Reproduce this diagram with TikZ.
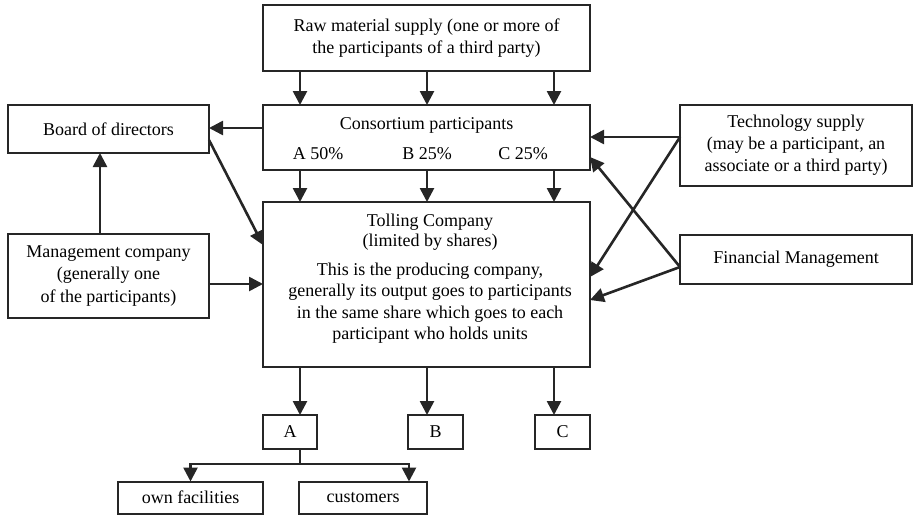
\documentclass[tikz,border=0pt]{standalone}
\usepackage{fontspec}
\setmainfont{Liberation Serif}
\usetikzlibrary{arrows.meta}
\begin{document}
\begin{tikzpicture}[x=0.5pt,y=-0.5pt,
 box/.style={draw=black!85,line width=1pt,inner sep=0pt,outer sep=0pt,align=center,font=\fontsize{9}{11}\selectfont},
 lbl/.style={inner sep=0pt,align=center,font=\fontsize{9}{11}\selectfont},
 arr/.style={draw=black!85,line width=1.3pt,-{Triangle[length=7pt,width=7pt]}},
 ln/.style={draw=black!85,line width=1.3pt}]
\useasboundingbox (0,0) rectangle (913,514);
% boxes
\node[box,minimum width=163.5pt,minimum height=33pt] (raw) at (426.5,38) {Raw material supply (one or more of\\the participants of a third party)};
\node[box,minimum width=163.5pt,minimum height=32.5pt] (cons) at (426.5,137.5) {};
\node[lbl] (consT) at (426.5,125) {Consortium participants};
\node[lbl] (pA) at (318,154) {A 50\%};
\node[lbl] (pB) at (427,154) {B 25\%};
\node[lbl] (pC) at (523,154) {C 25\%};
\node[box,minimum width=163.5pt,minimum height=82.5pt] (toll) at (426.5,284.5) {};
\node[lbl,font=\fontsize{9}{10}\selectfont] (tollT) at (430,232) {Tolling Company\\(limited by shares)};
\node[lbl,font=\fontsize{9}{10.7}\selectfont] (tollD) at (430,303) {This is the producing company,\\generally its output goes to participants\\in the same share which goes to each\\participant who holds units};
\node[box,minimum width=100.5pt,minimum height=24pt] (board) at (108.5,129) {Board of directors};
\node[box,minimum width=100.5pt,minimum height=42pt,font=\fontsize{9}{11.3}\selectfont] (mgmt) at (108.5,276) {Management company\\(generally one\\of the participants)};
\node[box,minimum width=116pt,minimum height=40.5pt] (tech) at (796,145.5) {Technology supply\\(may be a participant, an\\associate or a third party)};
\node[box,minimum width=116pt,minimum height=24.5pt] (fin) at (796,259.5) {Financial Management};
\node[box,minimum width=27pt,minimum height=17pt] (A) at (290,432) {A};
\node[box,minimum width=27.5pt,minimum height=17pt] (B) at (435.5,432) {B};
\node[box,minimum width=27.5pt,minimum height=17pt] (C) at (562.5,432) {C};
\node[box,minimum width=72.5pt,minimum height=16pt] (own) at (190.5,497.5) {own facilities};
\node[box,minimum width=64pt,minimum height=16pt] (cust) at (363,497.5) {customers};
% helper coordinates
\coordinate (xa) at (300,0);
\coordinate (xb) at (427,0);
\coordinate (xc) at (554,0);
\coordinate (xm) at (100,0);
\coordinate (xcu) at (409,0);
\coordinate (split) at (300,464);
\coordinate (y128) at (0,128);
\coordinate (y140) at (0,140);
\coordinate (y245) at (0,245);
\coordinate (y284) at (0,284);
\coordinate (y137) at (0,137);
\coordinate (y157) at (0,157);
\coordinate (y267) at (0,267);
\coordinate (y277) at (0,277);
\coordinate (y300) at (0,300);
% connectors
\foreach \xx in {xa,xb,xc}{
 \draw[arr] (raw.south -| \xx) -- (cons.north -| \xx);
 \draw[arr] (cons.south -| \xx) -- (toll.north -| \xx);
}
\draw[arr] (toll.south -| xa) -- (A.north -| xa);
\draw[arr] (toll.south -| xb) -- (B.north -| xb);
\draw[arr] (toll.south -| xc) -- (C.north -| xc);
\draw[ln] (A.south -| split) -- (split);
\draw[arr] (split) -| (own.north);
\draw[arr] (split) -| (cust.north -| xcu);
\draw[arr] (cons.west |- y128) -- (board.east |- y128);
\draw[arr] (board.east |- y140) -- (toll.west |- y245);
\draw[arr] (mgmt.north -| xm) -- (board.south -| xm);
\draw[arr] (mgmt.east |- y284) -- (toll.west |- y284);
\draw[arr] (tech.west |- y137) -- (cons.east |- y137);
\draw[arr] (tech.west |- y137) -- (toll.east |- y277);
\draw[arr] (fin.west |- y267) -- (cons.east |- y157);
\draw[arr] (fin.west |- y267) -- (toll.east |- y300);
\end{tikzpicture}
\end{document}
